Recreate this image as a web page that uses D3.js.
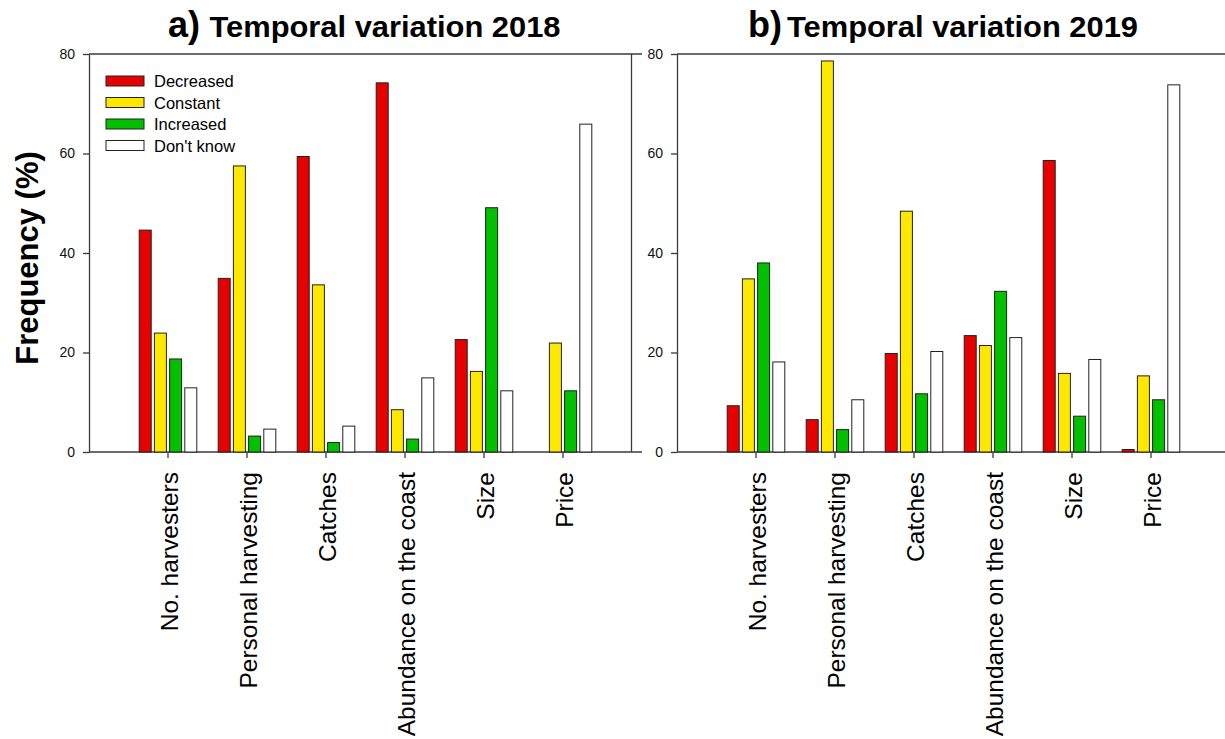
<!DOCTYPE html>
<html>
<head>
<meta charset="utf-8">
<script src="https://cdn.jsdelivr.net/npm/d3@7"></script>
<style>
  html, body { margin: 0; padding: 0; background: #fff; }
  svg { display: block; font-family: "Liberation Sans", Arial, sans-serif; }
</style>
</head>
<body>
<svg id="chart" width="1225" height="739"></svg>
<script>
// ---- data ----
const categories = ["No. harvesters", "Personal harvesting", "Catches", "Abundance on the coast", "Size", "Price"];
const series = ["Decreased", "Constant", "Increased", "Don't know"];
const seriesColors = ["#e60000", "#ffe800", "#00c000", "#ffffff"];
const yTicks = [0, 20, 40, 60, 80];

// 2018 values per series (same order as categories)
const decreased2018 = [44.6, 34.9, 59.4, 74.2, 22.6, 0];
const constant2018  = [23.9, 57.5, 33.6, 8.5, 16.2, 21.9];
const increased2018 = [18.7, 3.2, 1.9, 2.6, 49.1, 12.3];
const dontknow2018  = [12.9, 4.6, 5.2, 14.9, 12.3, 65.9];

// 2019 values per series
const decreased2019 = [9.3, 6.5, 19.8, 23.4, 58.6, 0.5];
const constant2019  = [34.8, 78.6, 48.4, 21.4, 15.8, 15.3];
const increased2019 = [38.0, 4.5, 11.7, 32.3, 7.2, 10.5];
const dontknow2019  = [18.1, 10.5, 20.2, 23.0, 18.6, 73.8];

const panels = [
  { letter: "a)", title: "Temporal variation 2018", values: [decreased2018, constant2018, increased2018, dontknow2018],
    axisX: 89, step: 79, letterX: 168, titleX: 209.5, titleW: 351, legend: true, rightBorder: 631.5, lineEnd: 642 },
  { letter: "b)", title: "Temporal variation 2019", values: [decreased2019, constant2019, increased2019, dontknow2019],
    axisX: 677, step: 79, letterX: 748, titleX: 787, titleW: 351, legend: false, rightBorder: null, lineEnd: 1226 }
];

const svg = d3.select("#chart");
const yTop = 54, yBottom = 452;
const axisColor = "#3a3a3a";

const y = d3.scaleLinear().domain([0, 80]).range([yBottom, yTop]);

panels.forEach(p => {
  const g = svg.append("g");
  const x0 = d3.scaleBand().domain(categories)
    .range([p.axisX + p.step * 0.5, p.axisX + p.step * 6.5]).paddingInner(0).paddingOuter(0);
  const x1 = d3.scaleBand().domain(series).range([-28.8, 28.8]).paddingInner(0.21).paddingOuter(0);

  // frame lines
  g.append("line").attr("x1", p.axisX).attr("x2", p.lineEnd).attr("y1", yTop).attr("y2", yTop)
    .attr("stroke", axisColor).attr("stroke-width", 1.3);
  g.append("line").attr("x1", p.axisX).attr("x2", p.lineEnd).attr("y1", yBottom).attr("y2", yBottom)
    .attr("stroke", axisColor).attr("stroke-width", 1.3);
  if (p.rightBorder) {
    g.append("line").attr("x1", p.rightBorder).attr("x2", p.rightBorder).attr("y1", yTop).attr("y2", yBottom)
      .attr("stroke", axisColor).attr("stroke-width", 1.3);
  }

  // bars
  series.forEach((s, si) => {
    g.append("g").selectAll("rect")
      .data(categories.map((c, ci) => ({ c, v: p.values[si][ci] })).filter(d => d.v > 0))
      .join("rect")
      .attr("x", d => x0(d.c) + x0.bandwidth() / 2 + x1(s))
      .attr("y", d => y(d.v))
      .attr("width", x1.bandwidth())
      .attr("height", d => yBottom - y(d.v))
      .attr("fill", seriesColors[si])
      .attr("stroke", "#222")
      .attr("stroke-width", 1);
  });

  // y axis
  const ya = g.append("g").attr("transform", `translate(${p.axisX},0)`)
    .call(d3.axisLeft(y).tickValues(yTicks).tickSize(6).tickSizeOuter(0).tickPadding(8));
  ya.select(".domain").attr("stroke", axisColor).attr("stroke-width", 1.3);
  ya.selectAll(".tick line").attr("stroke", axisColor).attr("stroke-width", 1.3);
  ya.selectAll(".tick text").attr("font-size", 14).attr("fill", "#111")
    .attr("font-family", "Liberation Sans, Arial, sans-serif");

  // x axis
  const xa = g.append("g").attr("transform", `translate(0,${yBottom})`)
    .call(d3.axisBottom(x0).tickSize(6).tickSizeOuter(0));
  xa.select(".domain").remove();
  xa.selectAll(".tick line").attr("stroke", axisColor).attr("stroke-width", 1.3);
  xa.selectAll(".tick text")
    .attr("transform", "rotate(-90)")
    .attr("text-anchor", "end")
    .attr("x", -20).attr("y", 9.5).attr("dy", 0)
    .attr("font-size", 24.5).attr("fill", "#000")
    .attr("font-family", "Liberation Sans, Arial, sans-serif");

  // title
  g.append("text").attr("x", p.letterX).attr("y", 37)
    .attr("font-size", 36).attr("font-weight", "bold").attr("fill", "#000").text(p.letter);
  g.append("text").attr("x", p.titleX).attr("y", 37)
    .attr("font-size", 29).attr("font-weight", "bold").attr("fill", "#000")
    .attr("textLength", p.titleW).attr("lengthAdjust", "spacingAndGlyphs")
    .text(p.title);

  // legend
  if (p.legend) {
    const lg = g.append("g");
    const rowY = [81, 102.5, 124, 145.5];
    series.forEach((s, si) => {
      lg.append("rect").attr("x", 106).attr("y", rowY[si] - 5).attr("width", 38).attr("height", 10)
        .attr("fill", seriesColors[si]).attr("stroke", "#222").attr("stroke-width", 1);
      lg.append("text").attr("x", 154).attr("y", rowY[si] + 6)
        .attr("font-size", 16.5).attr("fill", "#000").text(s);
    });
  }
});

// y axis label
svg.append("text")
  .attr("transform", "translate(38,258) rotate(-90)")
  .attr("text-anchor", "middle")
  .attr("font-size", 31).attr("font-weight", "bold").attr("fill", "#000")
  .text("Frequency (%)");
</script>
</body>
</html>
